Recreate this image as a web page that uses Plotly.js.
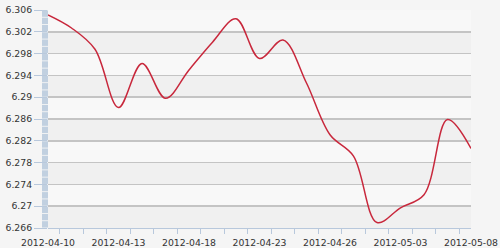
<!DOCTYPE html>
<html>
<head>
<meta charset="utf-8">
<script src="https://cdn.plot.ly/plotly-3.0.1.min.js"></script>
<style>html,body{margin:0;padding:0;background:#f5f5f5;}#chart{width:500px;height:248px;}</style>
</head>
<body>
<div id="chart"></div>
<script>
var dates = ['2012-04-10','2012-04-11','2012-04-12','2012-04-13','2012-04-16','2012-04-17','2012-04-18','2012-04-19','2012-04-20','2012-04-23','2012-04-24','2012-04-25','2012-04-26','2012-04-27','2012-05-02','2012-05-03','2012-05-04','2012-05-07','2012-05-08'];
var rates = [6.3051,6.3027,6.2988,6.2881,6.2962,6.2898,6.2950,6.3001,6.3044,6.2971,6.3005,6.2926,6.2831,6.2792,6.2670,6.2697,6.2721,6.2859,6.2806];
var xLabelIdx = [0,3,6,9,12,15,18];
var yTickVals = [6.266,6.27,6.274,6.278,6.282,6.286,6.29,6.294,6.298,6.302,6.306];
var yTickText = ['6.266','6.27','6.274','6.278','6.282','6.286','6.29','6.294','6.298','6.302','6.306'];

var idx = dates.map(function(d,i){return i;});
var shapes = [];
// alternating bands
for (var k = 0; k < yTickVals.length - 1; k++) {
  var fromTop = yTickVals.length - 2 - k;
  shapes.push({type:'rect', layer:'below', xref:'paper', yref:'y', x0:0, x1:1,
    y0:yTickVals[k], y1:yTickVals[k+1], line:{width:0},
    fillcolor: (fromTop % 2 === 0) ? '#f8f8f8' : '#f0f0f0'});
}
// left strip
var nSeg = 30;
for (var s = 0; s < nSeg; s++) {
  shapes.push({type:'rect', layer:'above', xref:'paper', yref:'paper', xsizemode:'pixel', xanchor:0,
    x0:-6, x1:0, y0:s/nSeg + 0.002, y1:(s+1)/nSeg - 0.002, line:{width:0}, fillcolor:'#c1d0e0'});
}

var trace = {x: idx, y: rates, type:'scatter', mode:'lines',
  line:{shape:'spline', smoothing:1, color:'#c8283c', width:1.5}, hoverinfo:'skip'};

var layout = {
  width:500, height:248,
  margin:{l:48, r:29, t:10, b:20, pad:0},
  paper_bgcolor:'#f5f5f5', plot_bgcolor:'rgba(0,0,0,0)',
  showlegend:false,
  font:{family:'DejaVu Sans, Verdana, sans-serif', size:9.3, color:'#333'},
  xaxis:{range:[0,18], tickmode:'array', tickvals:xLabelIdx,
    ticktext: xLabelIdx.map(function(i){return dates[i];}),
    ticks:'outside', ticklen:6, tickcolor:'rgba(0,0,0,0)',
    minor:{tick0:0.5, dtick:1, ticks:'outside', ticklen:5, tickcolor:'#b8c8dc', showgrid:false},
    showline:true, linecolor:'#b8c8dc', linewidth:1, showgrid:false, zeroline:false, fixedrange:true},
  yaxis:{range:[6.266,6.306], tickmode:'array', tickvals:yTickVals, ticktext:yTickText,
    ticks:'outside', ticklen:13, tickcolor:'#b8c8dc', showline:false,
    showgrid:true, gridcolor:'#c4c4c4', gridwidth:1.6, zeroline:false, fixedrange:true},
  shapes: shapes
};
Plotly.newPlot('chart',[trace],layout,{displayModeBar:false, staticPlot:true});
</script>
</body>
</html>
